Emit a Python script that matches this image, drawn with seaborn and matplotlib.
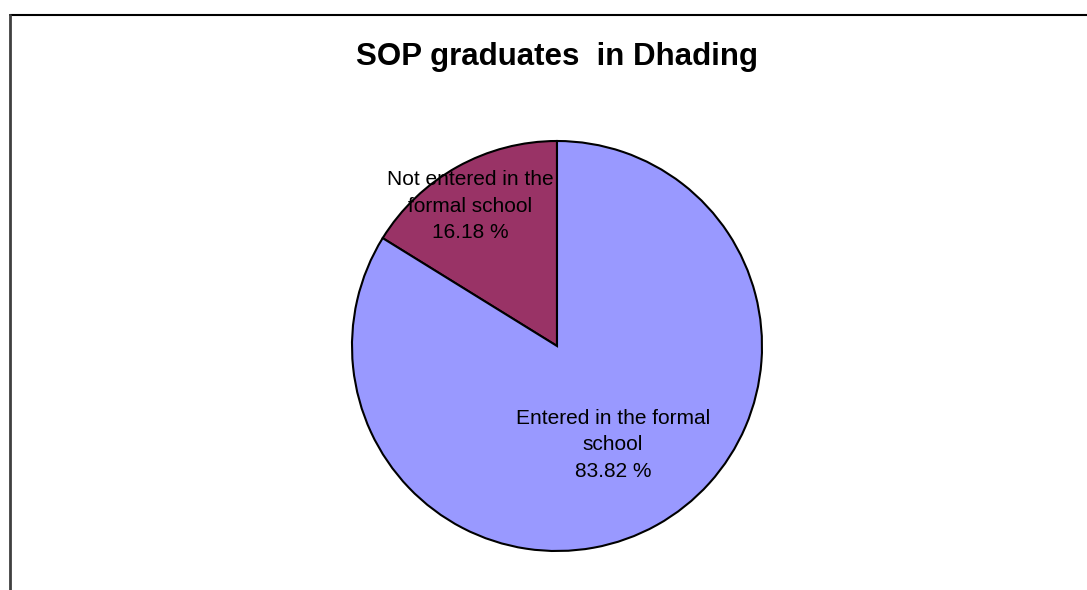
import matplotlib
matplotlib.use("Agg")
import matplotlib.pyplot as plt
import seaborn as sns
from matplotlib.lines import Line2D

sns.set_theme(style="white")
plt.rcParams['font.family'] = ['Liberation Sans', 'DejaVu Sans']

categories = ["Not entered in the\nformal school", "Entered in the formal\nschool"]
values = [16.18, 83.82]
colors = ["#993366", "#9999FF"]
title = "SOP graduates  in Dhading"

W, H = 1087, 590
fig = plt.figure(figsize=(W / 100, H / 100), dpi=100)
fig.patch.set_facecolor("white")

# pie axes: center (557,346), radius 205 px
cx, cy, r = 557, 346, 205
ax = fig.add_axes([(cx - r) / W, (H - cy - r) / H, 2 * r / W, 2 * r / H])
wedges, _ = ax.pie(values, colors=colors, startangle=90, counterclock=True,
                   radius=1.0,
                   wedgeprops=dict(edgecolor="black", linewidth=1.5))
ax.set_xlim(-1, 1)
ax.set_ylim(-1, 1)
ax.set_aspect("equal")
ax.axis("off")

# labels (data coords relative to radius 1)
label_pos = [((470 - cx) / r, (cy - 206) / r), ((613 - cx) / r, (cy - 445) / r)]
for cat, val, (lx, ly) in zip(categories, values, label_pos):
    ax.text(lx, ly, f"{cat}\n{val:.2f} %", ha="center", va="center",
            fontsize=15, color="black", linespacing=1.48)

fig.text(cx / W, 1 - 57 / H, title, ha="center", va="center",
         fontsize=22.5, fontweight="bold", color="black")

# outer frame (top and left visible)
fig.add_artist(Line2D([10 / W, 1.0], [1 - 15 / H, 1 - 15 / H],
                      transform=fig.transFigure, color="black", linewidth=1.5))
fig.add_artist(Line2D([10 / W, 10 / W], [0, 1 - 15 / H],
                      transform=fig.transFigure, color="#404040", linewidth=2))

fig.savefig("out.png", dpi=100, facecolor="white")
